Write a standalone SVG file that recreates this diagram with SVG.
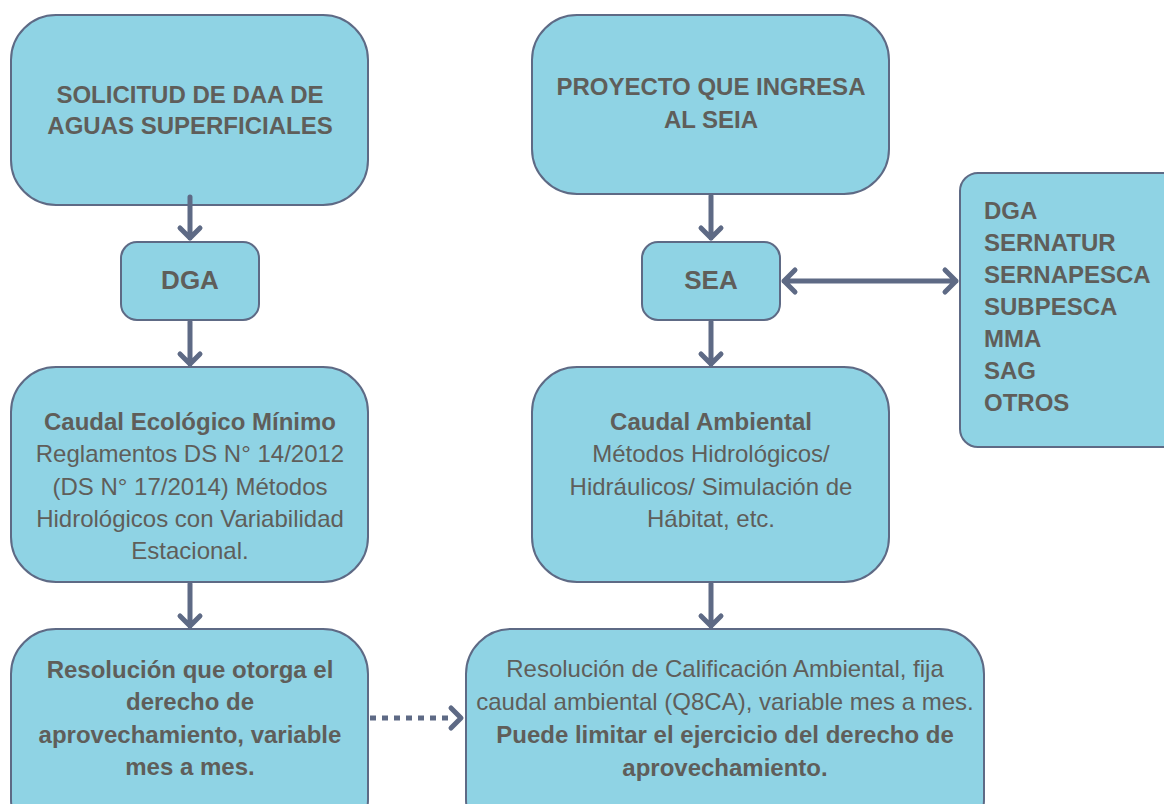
<svg xmlns="http://www.w3.org/2000/svg" width="1164" height="804" viewBox="0 0 1164 804">
<style>
.box{fill:#8FD3E4;stroke:#5E6A85;stroke-width:2}
text{font-family:"Liberation Sans",Arial,sans-serif;fill:#5F5E5A;font-size:24px}
.c{text-anchor:middle}
.b{font-weight:bold}
.big{font-size:26px}
.ln{fill:none;stroke:#5E6A85;stroke-width:5;stroke-linecap:round;stroke-linejoin:round}
</style>
<rect width="1164" height="804" fill="#fff"/>
<g id="n1"><rect class="box" x="11" y="15" width="357" height="190" rx="45"/>
<text class="c b" x="190" y="103">SOLICITUD DE DAA DE</text>
<text class="c b" x="190" y="134">AGUAS SUPERFICIALES</text></g>
<g id="n2"><rect class="box" x="121" y="242" width="138" height="78" rx="16"/>
<text class="c b big" x="190" y="289">DGA</text></g>
<g id="n3"><rect class="box" x="11" y="367" width="357" height="215" rx="45"/>
<text class="c b" x="190" y="430">Caudal Ecológico Mínimo</text>
<text class="c" x="190" y="462">Reglamentos DS N° 14/2012</text>
<text class="c" x="190" y="495">(DS N° 17/2014) Métodos</text>
<text class="c" x="190" y="527">Hidrológicos con Variabilidad</text>
<text class="c" x="190" y="559">Estacional.</text></g>
<g id="n4"><rect class="box" x="11" y="629" width="357" height="215" rx="45"/>
<text class="c b" x="190" y="678">Resolución que otorga el</text>
<text class="c b" x="190" y="710">derecho de</text>
<text class="c b" x="190" y="743">aprovechamiento, variable</text>
<text class="c b" x="190" y="775">mes a mes.</text></g>
<g id="n5"><rect class="box" x="532" y="15" width="357" height="179" rx="45"/>
<text class="c b" x="711" y="95">PROYECTO QUE INGRESA</text>
<text class="c b" x="711" y="128">AL SEIA</text></g>
<g id="n6"><rect class="box" x="642" y="242" width="138" height="78" rx="16"/>
<text class="c b big" x="711" y="289">SEA</text></g>
<g id="n7"><rect class="box" x="532" y="367" width="357" height="215" rx="45"/>
<text class="c b" x="711" y="430">Caudal Ambiental</text>
<text class="c" x="711" y="462">Métodos Hidrológicos/</text>
<text class="c" x="711" y="495">Hidráulicos/ Simulación de</text>
<text class="c" x="711" y="527">Hábitat, etc.</text></g>
<g id="n8"><rect class="box" x="466" y="629" width="518" height="215" rx="45"/>
<text class="c" x="725" y="677">Resolución de Calificación Ambiental, fija</text>
<text class="c" x="725" y="710">caudal ambiental (Q8CA), variable mes a mes.</text>
<text class="c b" x="725" y="743">Puede limitar el ejercicio del derecho de</text>
<text class="c b" x="725" y="776">aprovechamiento.</text></g>
<g id="n9"><rect class="box" x="960" y="173" width="230" height="274" rx="18"/>
<text class="b" x="984" y="219">DGA</text>
<text class="b" x="984" y="251">SERNATUR</text>
<text class="b" x="984" y="283">SERNAPESCA</text>
<text class="b" x="984" y="315">SUBPESCA</text>
<text class="b" x="984" y="347">MMA</text>
<text class="b" x="984" y="379">SAG</text>
<text class="b" x="984" y="411">OTROS</text></g>
<g id="connectors">
<path class="ln" d="M190 197V238M180 228L190 238L200 228"/>
<path class="ln" d="M190 322V364M180 354L190 364L200 354"/>
<path class="ln" d="M190 584V626M180 616L190 626L200 616"/>
<path class="ln" d="M711 196V238M701 228L711 238L721 228"/>
<path class="ln" d="M711 322V364M701 354L711 364L721 354"/>
<path class="ln" d="M711 584V626M701 616L711 626L721 616"/>
<path class="ln" d="M784 281H956M795 270L784 281L795 292M945 270L956 281L945 292"/>
<path fill="none" stroke="#5E6A85" stroke-width="5" stroke-dasharray="6 6" d="M370 718H452"/>
<path class="ln" d="M451 708L461 718L451 728"/>
</g>
</svg>
